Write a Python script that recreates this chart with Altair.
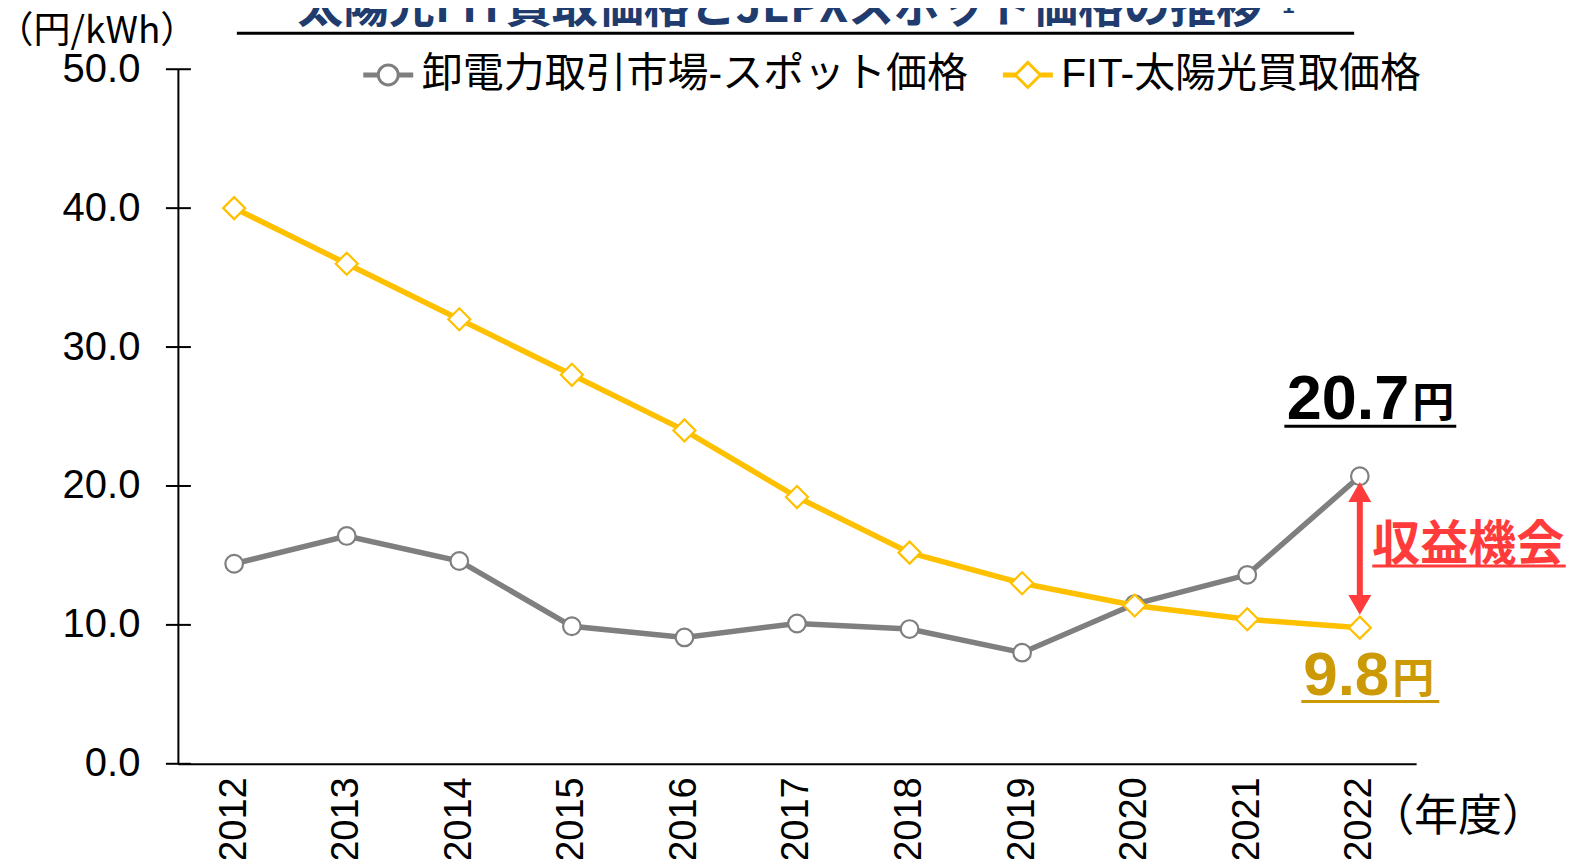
import altair as alt
import pandas as pd

# ---------------- data ----------------
years = ["2012", "2013", "2014", "2015", "2016", "2017", "2018", "2019", "2020", "2021", "2022"]
spot_price = [14.4, 16.4, 14.6, 9.9, 9.1, 10.1, 9.7, 8.0, 11.5, 13.6, 20.7]
fit_price = [40.0, 36.0, 32.0, 28.0, 24.0, 19.2, 15.2, 13.0, 11.4, 10.4, 9.8]
series_names = ["卸電力取引市場-スポット価格", "FIT-太陽光買取価格"]
series_colors = ["#7F7F7F", "#FFC000"]
y_tick_values = [0, 10, 20, 30, 40, 50]
title_text = "太陽光FIT買取価格とJEPXスポット価格の推移"
title_note = "1"
y_unit = "（円/kWh）"
x_unit = "（年度）"
yen = "円"
gap_label = "収益機会"

FONT = "Liberation Sans, Noto Sans CJK JP"
JP = "Noto Sans CJK JP, Liberation Sans"
GRAY, YELLOW, RED, GOLD, NAVY = "#7F7F7F", "#FFC000", "#FF3B3B", "#CC9A06", "#203B6E"

W, H = 1239, 695

df_spot = pd.DataFrame({"year": years, "value": spot_price})
df_fit = pd.DataFrame({"year": years, "value": fit_price})
df_ticks = pd.DataFrame({"value": y_tick_values})
df_end = pd.DataFrame({"year": [years[-1]], "value": [spot_price[-1]], "value2": [fit_price[-1]]})
df_one = pd.DataFrame({"k": [0]})
df_legend = pd.DataFrame({"series": series_names})

x_scale = alt.Scale(type="point", domain=years, padding=0.5)
y_scale = alt.Scale(domain=[0, 50], nice=False, zero=True)
x_axis = alt.Axis(title=None, labelAngle=270, labelFont=FONT, labelFontSize=38, labelColor="black",
                  labelPadding=13, labelOverlap=False, ticks=False, grid=False,
                  domainColor="black", domainWidth=2)
y_axis = alt.Axis(title=None, values=y_tick_values, format=".1f", labelFont=FONT, labelFontSize=40,
                  labelColor="black", labelPadding=38, ticks=False, grid=False,
                  domainColor="black", domainWidth=2)


def X(field="year"):
    return alt.X(f"{field}:O", scale=x_scale, axis=x_axis)


def Y(field="value"):
    return alt.Y(f"{field}:Q", scale=y_scale, axis=y_axis)


# crossing ticks on the y axis
ticks = alt.Chart(df_ticks).mark_rule(color="black", strokeWidth=2).encode(
    y=Y(), x=alt.value(-12), x2=alt.value(13))

spot_line = alt.Chart(df_spot).mark_line(color=GRAY, strokeWidth=5.5).encode(x=X(), y=Y())
spot_pts = alt.Chart(df_spot).mark_point(shape="circle", size=310, filled=True, fill="white",
                                         stroke=GRAY, strokeWidth=2.2, opacity=1).encode(x=X(), y=Y())
fit_line = alt.Chart(df_fit).mark_line(color=YELLOW, strokeWidth=5.5).encode(x=X(), y=Y())
fit_pts = alt.Chart(df_fit).mark_point(shape="diamond", size=484, filled=True, fill="white",
                                       stroke=YELLOW, strokeWidth=2.2, opacity=1).encode(x=X(), y=Y())

# double arrow between the 2022 values
end = alt.Chart(df_end)
shaft = end.mark_rule(color=RED, strokeWidth=6, yOffset=16, y2Offset=-23).encode(
    x=X(), y=Y(), y2=alt.Y2("value2"))
head_up = end.mark_point(shape="triangle-up", size=529, filled=True, color=RED, opacity=1,
                         yOffset=15.7).encode(x=X(), y=Y())
head_dn = end.mark_point(shape="triangle-down", size=529, filled=True, color=RED, opacity=1,
                         yOffset=-22.8).encode(x=X(), y=Y("value2"))

# annotations
top_num = end.mark_text(font="Liberation Sans", fontSize=63, fontWeight="bold", color="black",
                        align="right", baseline="alphabetic", dx=49.5, dy=-57).encode(
    x=X(), y=Y(), text=alt.Text("value:Q", format=".1f"))
top_yen = end.mark_text(text=yen, font=JP, fontSize=42, fontWeight="bold", color="black",
                        align="left", baseline="alphabetic", dx=52.5, dy=-59).encode(x=X(), y=Y())
top_ul = end.mark_rule(color="black", strokeWidth=3, xOffset=-75.5, x2Offset=96.5, yOffset=-50).encode(
    x=X(), x2=alt.X2("year"), y=Y())

bot_num = end.mark_text(font="Liberation Sans", fontSize=62, fontWeight="bold", color=GOLD,
                        align="right", baseline="alphabetic", dx=29.5, dy=67).encode(
    x=X(), y=Y("value2"), text=alt.Text("value2:Q", format=".1f"))
bot_yen = end.mark_text(text=yen, font=JP, fontSize=42, fontWeight="bold", color=GOLD,
                        align="left", baseline="alphabetic", dx=32.5, dy=65).encode(x=X(), y=Y("value2"))
bot_ul = end.mark_rule(color=GOLD, strokeWidth=3, xOffset=-58.5, x2Offset=79.5, yOffset=74).encode(
    x=X(), x2=alt.X2("year"), y=Y("value2"))

mid = end.transform_calculate(mid="(datum.value + datum.value2) / 2")
gap_txt = mid.mark_text(text=gap_label, font=JP, fontSize=48, fontWeight="bold", color=RED,
                        align="left", baseline="alphabetic", dx=12.5, dy=8).encode(x=X(), y=Y("mid"))
gap_ul = mid.mark_rule(color=RED, strokeWidth=3, xOffset=12.5, x2Offset=206, yOffset=14).encode(
    x=X(), x2=alt.X2("year"), y=Y("mid"))

# title, units
one = alt.Chart(df_one)
title = one.mark_text(text=title_text, font=JP, fontSize=46, fontWeight="bold", color=NAVY,
                      align="center", baseline="alphabetic").encode(x=alt.value(602), y=alt.value(-47))
note = one.mark_text(text=title_note, font="Liberation Sans", fontSize=22, fontWeight="bold", color=NAVY,
                     align="left", baseline="alphabetic").encode(x=alt.value(1105), y=alt.value(-56))
title_ul = one.mark_rule(color="black", strokeWidth=3).encode(
    x=alt.value(59), x2=alt.value(1177), y=alt.value(-36))
yunit = one.mark_text(text=y_unit, font=JP, fontSize=37, color="black", align="center",
                      baseline="middle").encode(x=alt.value(-81), y=alt.value(-37))
xunit = one.mark_text(text=x_unit, font=JP, fontSize=44, color="black", align="center",
                      baseline="middle").encode(x=alt.value(1281), y=alt.value(749))

# legend (native legend, symbols as custom paths: line + marker)
circle_path = ("M-1,-0.04H-0.4M-1,0.04H-0.4M0.4,-0.04H1M0.4,0.04H1"
               "M-0.4,0A0.4,0.4,0,1,1,0.4,0A0.4,0.4,0,1,1,-0.4,0Z")
diamond_path = ("M-1,-0.04H-0.5M-1,0.04H-0.5M0.5,-0.04H1M0.5,0.04H1"
                "M-0.5,0L0,-0.5L0.5,0L0,0.5Z")
leg = alt.Legend(title=None, orient="none", legendX=184, legendY=-21, direction="horizontal",
                 labelFont=FONT, labelFontSize=41, labelColor="black", labelLimit=0, labelOffset=7,
                 columnPadding=28, symbolSize=2500, symbolStrokeWidth=3, symbolFillColor="white",
                 padding=0)
legend_layer = alt.Chart(df_legend).transform_filter("false").mark_point(
    filled=False, strokeWidth=3, opacity=1).encode(
    color=alt.Color("series:N", scale=alt.Scale(domain=series_names, range=series_colors), legend=leg),
    shape=alt.Shape("series:N", scale=alt.Scale(domain=series_names, range=[circle_path, diamond_path]),
                    legend=leg))

chart = alt.layer(
    ticks, spot_line, spot_pts, fit_line, fit_pts,
    shaft, head_up, head_dn,
    top_num, top_yen, top_ul, bot_num, bot_yen, bot_ul, gap_txt, gap_ul,
    title, note, title_ul, yunit, xunit, legend_layer
).properties(
    width=W, height=H,
    padding={"left": 170, "top": 61, "right": 155, "bottom": 100},
    autosize=alt.AutoSizeParams(type="none"),
    background="white",
).configure_view(stroke=None)

chart.save("out.html", embed_options={"renderer": "svg", "actions": False})
